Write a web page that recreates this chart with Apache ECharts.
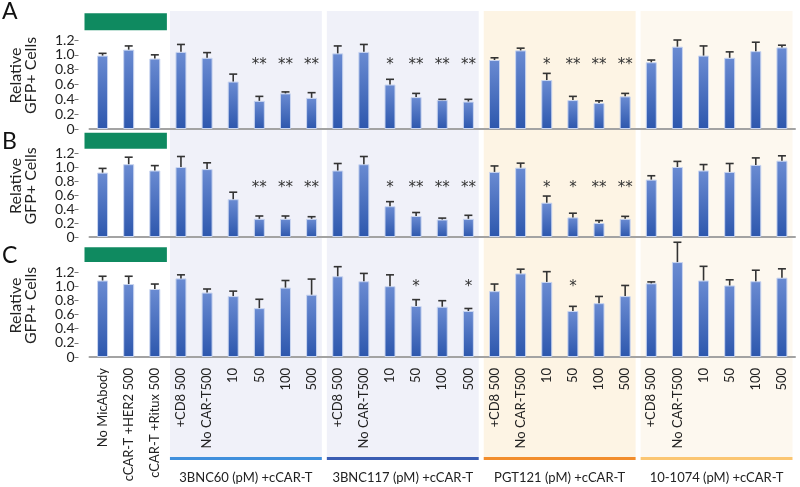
<!DOCTYPE html>
<html>
<head>
<meta charset="UTF-8">
<title>Relative GFP+ Cells</title>
<script src="https://cdn.jsdelivr.net/npm/echarts@6/dist/echarts.min.js"></script>
<style>html,body{margin:0;padding:0;background:#fff;}</style>
</head>
<body>
<div id="main" style="width:800px;height:487px;"></div>
<script>
// categories (x axis, bottom panel only shows them)
var categories = ['No MicAbody', 'cCAR-T +HER2 500', 'cCAR-T +Ritux 500',
    '+CD8 500', 'No CAR-T500', '10', '50', '100', '500',
    '+CD8 500', 'No CAR-T500', '10', '50', '100', '500',
    '+CD8 500', 'No CAR-T500', '10', '50', '100', '500',
    '+CD8 500', 'No CAR-T500', '10', '50', '100', '500'];
var groupNames = ['3BNC60 (pM) +cCAR-T', '3BNC117 (pM) +cCAR-T', 'PGT121 (pM) +cCAR-T', '10-1074 (pM) +cCAR-T'];
var groupFirst = [3, 9, 15, 21];
var groupLast = [8, 14, 20, 26];

// panel A
var valuesA = [0.99, 1.07, 0.95, 1.04, 0.96, 0.64, 0.38, 0.48, 0.42,
    1.02, 1.04, 0.60, 0.43, 0.39, 0.37, 0.93, 1.06, 0.66, 0.39, 0.35, 0.44,
    0.90, 1.11, 0.99, 0.96, 1.05, 1.10];
var errA = [0.03, 0.05, 0.05, 0.10, 0.07, 0.10, 0.06, 0.02, 0.07,
    0.10, 0.10, 0.07, 0.05, 0.01, 0.03, 0.03, 0.03, 0.09, 0.05, 0.03, 0.04,
    0.03, 0.09, 0.13, 0.08, 0.12, 0.03];
var sigA = ['', '', '', '', '', '', '**', '**', '**',
    '', '', '*', '**', '**', '**', '', '', '*', '**', '**', '**',
    '', '', '', '', '', ''];

// panel B
var valuesB = [0.92, 1.04, 0.95, 1.00, 0.97, 0.54, 0.26, 0.26, 0.26,
    0.95, 1.04, 0.44, 0.30, 0.25, 0.26, 0.93, 0.99, 0.49, 0.28, 0.20, 0.26,
    0.82, 1.00, 0.95, 0.93, 1.03, 1.09];
var errB = [0.06, 0.10, 0.07, 0.15, 0.09, 0.10, 0.04, 0.04, 0.03,
    0.10, 0.11, 0.065, 0.05, 0.02, 0.05, 0.085, 0.065, 0.095, 0.06, 0.035, 0.035,
    0.055, 0.08, 0.085, 0.12, 0.10, 0.07];
var sigB = ['', '', '', '', '', '', '**', '**', '**',
    '', '', '*', '**', '**', '**', '', '', '*', '*', '**', '**',
    '', '', '', '', '', ''];

// panel C
var valuesC = [1.08, 1.03, 0.96, 1.11, 0.91, 0.86, 0.69, 0.98, 0.88,
    1.14, 1.07, 1.00, 0.72, 0.71, 0.65, 0.93, 1.18, 1.06, 0.65, 0.76, 0.86,
    1.04, 1.34, 1.08, 1.01, 1.07, 1.12];
var errC = [0.06, 0.11, 0.07, 0.05, 0.05, 0.07, 0.125, 0.10, 0.22,
    0.135, 0.11, 0.16, 0.09, 0.085, 0.035, 0.10, 0.06, 0.145, 0.065, 0.095, 0.15,
    0.02, 0.28, 0.20, 0.08, 0.155, 0.125];
var sigC = ['', '', '', '', '', '', '', '', '',
    '', '', '', '*', '', '*', '', '', '', '*', '', '',
    '', '', '', '', '', ''];

var sigLevel = [0.86, 0.70, 0.99];

var font = 'Lato, "Noto Sans", sans-serif';
var shade = ['#f0f1f9', '#f0f1f9', '#fdf4e4', '#fdf8ef'];
var lineCol = ['#3f8fdc', '#3a5db3', '#f28d2c', '#fbc672'];

var myChart = echarts.init(document.getElementById('main'));

var panels = [
    {letter: 'A', top: 40, height: 89, vals: valuesA, err: errA, sig: sigA, green: [1.33, 1.56], letterTop: 0},
    {letter: 'B', top: 153, height: 84, vals: valuesB, err: errB, sig: sigB, green: [1.26, 1.49], letterTop: 130},
    {letter: 'C', top: 272, height: 85, vals: valuesC, err: errC, sig: sigC, green: [1.34, 1.55], letterTop: 244}
];

var grids = [], xAxes = [], yAxes = [], series = [], titles = [];

panels.forEach(function (p, i) {
    grids.push({left: 89, right: 5, top: p.top, height: p.height});
    xAxes.push({
        gridIndex: i, type: 'category', data: categories, z: 1,
        axisLine: {lineStyle: {color: '#a3a3a3', width: 2}},
        axisTick: {show: false},
        axisLabel: {show: i === 2, rotate: 90, interval: 0, margin: 11,
            fontSize: 13, color: '#222', fontFamily: font}
    });
    yAxes.push({
        gridIndex: i, type: 'value', min: 0, max: 1.2, interval: 0.2, offset: 11, z: 1,
        name: 'Relative\nGFP+ Cells', nameLocation: 'middle', nameGap: 40,
        nameTextStyle: {fontSize: 16, lineHeight: 15, color: '#222', fontFamily: font, padding: [0, 0, 0, 18]},
        axisLine: {show: false},
        axisTick: {show: true, length: 4, lineStyle: {color: '#777'}},
        splitLine: {show: false},
        axisLabel: {fontSize: 14, color: '#222', margin: 4, fontFamily: font,
            formatter: function (v) { return v === 0 ? '0' : v.toFixed(1); }}
    });
    titles.push({text: p.letter, left: 2, top: p.letterTop, padding: 0,
        textStyle: {fontSize: 23, fontWeight: 'normal', color: '#111', fontFamily: font}});

    series.push({
        type: 'bar', xAxisIndex: i, yAxisIndex: i, data: p.vals, barWidth: 11, clip: false, z: 2,
        itemStyle: {
            color: new echarts.graphic.LinearGradient(0, 0, 0, 1, [
                {offset: 0, color: '#6a8bd2'}, {offset: 1, color: '#2d57ad'}]),
            borderColor: '#c9d5f0', borderWidth: 1
        }
    });
    // error bars (upper half)
    series.push({
        type: 'custom', xAxisIndex: i, yAxisIndex: i, z: 3, clip: false,
        data: p.vals.map(function (v, k) { return [k, v, p.err[k]]; }),
        encode: {x: 0, y: 1},
        renderItem: function (params, api) {
            var x = api.value(0), v = api.value(1), e = api.value(2);
            var a = api.coord([x, v]), b = api.coord([x, v + e]);
            var st = {stroke: '#333', lineWidth: 1.6};
            return {type: 'group', children: [
                {type: 'line', shape: {x1: a[0], y1: a[1], x2: b[0], y2: b[1]}, style: st},
                {type: 'line', shape: {x1: b[0] - 4, y1: b[1], x2: b[0] + 4, y2: b[1]}, style: st}
            ]};
        }
    });
    // significance marks
    series.push({
        type: 'custom', xAxisIndex: i, yAxisIndex: i, z: 3, clip: false,
        data: p.vals.map(function (v, k) { return [k, sigLevel[i]]; }),
        encode: {x: 0, y: 1},
        renderItem: function (params, api) {
            var s = p.sig[params.dataIndex];
            if (!s) return null;
            var c = api.coord([api.value(0), api.value(1)]);
            return {type: 'text', x: c[0], y: c[1], style: {text: s, fill: '#333',
                fontSize: 15, fontFamily: 'DejaVu Sans', align: 'center', verticalAlign: 'middle'}};
        }
    });
    // green control bar
    series.push({
        type: 'custom', xAxisIndex: i, yAxisIndex: i, z: 3, clip: false,
        data: [[0, 2]],
        encode: {x: [0, 1]},
        renderItem: function (params, api) {
            var w = api.size([1, 0])[0];
            var a = api.coord([api.value(0), p.green[1]]);
            var b = api.coord([api.value(1), p.green[0]]);
            return {type: 'rect', shape: {x: a[0] - w / 2 - 5, y: a[1], width: b[0] - a[0] + w + 4, height: b[1] - a[1]},
                style: {fill: '#0f8a60'}};
        }
    });
});

// frame grid for the tall group shading, colour rules and group names
grids.push({left: 89, right: 5, top: 11, height: 449});
xAxes.push({gridIndex: 3, type: 'category', data: categories, show: false});
yAxes.push({gridIndex: 3, type: 'value', min: 0, max: 1, show: false});
series.push({
    type: 'custom', xAxisIndex: 3, yAxisIndex: 3, z: 0, clip: false,
    data: groupFirst.map(function (f, g) { return [f, groupLast[g], g]; }),
    encode: {x: [0, 1]},
    renderItem: function (params, api) {
        var g = api.value(2);
        var w = api.size([1, 0])[0];
        var a = api.coord([api.value(0), 1]);
        var b = api.coord([api.value(1), 0]);
        var x0 = a[0] - w / 2 + 2.5, x1 = b[0] + w / 2 - 2.5;
        return {type: 'group', children: [
            {type: 'rect', shape: {x: x0, y: a[1], width: x1 - x0, height: b[1] - a[1] - 3}, style: {fill: shade[g]}},
            {type: 'rect', shape: {x: x0, y: b[1] - 3, width: x1 - x0, height: 3}, style: {fill: lineCol[g]}},
            {type: 'text', x: (x0 + x1) / 2, y: b[1] + 18, style: {text: groupNames[g], fill: '#222',
                fontSize: 13, fontFamily: font, align: 'center', verticalAlign: 'middle'}}
        ]};
    }
});

var option = {
    animation: false,
    backgroundColor: '#fff',
    title: titles,
    grid: grids,
    xAxis: xAxes,
    yAxis: yAxes,
    series: series
};

myChart.setOption(option);
</script>
</body>
</html>
